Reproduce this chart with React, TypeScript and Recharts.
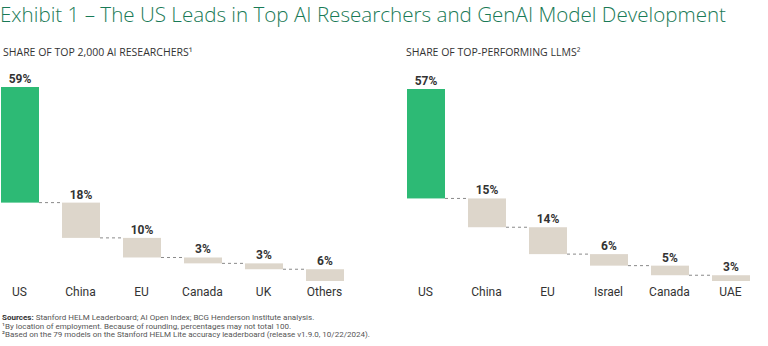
import { Bar, BarChart, LabelList, XAxis, YAxis } from "recharts";

const researcherCategories = ["US", "China", "EU", "Canada", "UK", "Others"];
const researcherShares = [59, 18, 10, 3, 3, 6];

const llmCategories = ["US", "China", "EU", "Israel", "Canada", "UAE"];
const llmShares = [57, 15, 14, 6, 5, 3];

const CHART_W = 366;
const CHART_H = 260;
const BAR_SIZE = 38;
const GAP = CHART_W / 6 - BAR_SIZE;

const GREEN = "#2dba75";
const BEIGE = "#ddd6cb";

function toWaterfall(names: string[], shares: number[]) {
	const total = shares.reduce((a, b) => a + b, 0);
	let used = 0;
	return names.map((name, i) => {
		used += shares[i];
		return { name, base: total - used, value: shares[i] };
	});
}

function StepBar(props: any) {
	const { x, y, width, height, index } = props;
	return (
		<g>
			<rect
				x={x}
				y={y}
				width={width}
				height={height}
				fill={index === 0 ? GREEN : BEIGE}
			/>
			{index > 0 && (
				<line
					x1={x - GAP}
					x2={x}
					y1={y}
					y2={y}
					stroke="#8a8a8a"
					strokeWidth={1}
					strokeDasharray="3 3"
				/>
			)}
		</g>
	);
}

function Waterfall({
	names,
	shares,
	top,
}: {
	names: string[];
	shares: number[];
	top: number;
}) {
	const data = toWaterfall(names, shares);
	const total = shares.reduce((a, b) => a + b, 0);
	return (
		<BarChart
			width={CHART_W}
			height={CHART_H}
			data={data}
			margin={{ top, right: 0, left: 0, bottom: 9 }}
			barSize={BAR_SIZE}
		>
			<XAxis
				dataKey="name"
				axisLine={false}
				tickLine={false}
				interval={0}
				tickMargin={0}
				tick={{ fill: "#333", fontSize: 12 }}
			/>
			<YAxis hide domain={[0, total]} />
			<Bar dataKey="base" stackId="w" fill="transparent" isAnimationActive={false} />
			<Bar
				dataKey="value"
				stackId="w"
				shape={StepBar}
				isAnimationActive={false}
			>
				<LabelList
					dataKey="value"
					position="top"
					offset={4}
					formatter={(v: any) => `${v}%`}
					style={{ fill: "#333", fontSize: 12, fontWeight: 700 }}
				/>
			</Bar>
		</BarChart>
	);
}

export default function App() {
	return (
		<div
			style={{
				position: "absolute",
				left: 0,
				top: 0,
				width: 768,
				height: 346,
				overflow: "hidden",
				background: "#fff",
				fontFamily: "Roboto, sans-serif",
			}}
		>
			<div
				style={{
					position: "absolute",
					left: 0,
					top: 0,
					fontFamily: "'Open Sans', sans-serif",
					fontSize: 20.6,
					fontWeight: 300,
					color: "#197a56",
					whiteSpace: "nowrap",
				}}
			>
				Exhibit 1 – The US Leads in Top AI Researchers and GenAI Model Development
			</div>
			<div
				style={{
					position: "absolute",
					left: 3,
					top: 45,
					fontFamily: "'Open Sans', sans-serif",
					fontSize: 10.5,
					color: "#333",
					whiteSpace: "nowrap",
				}}
			>
				SHARE OF TOP 2,000 AI RESEARCHERS¹
			</div>
			<div
				style={{
					position: "absolute",
					left: 406,
					top: 45,
					fontFamily: "'Open Sans', sans-serif",
					fontSize: 10.5,
					color: "#333",
					whiteSpace: "nowrap",
				}}
			>
				SHARE OF TOP-PERFORMING LLMS²
			</div>
			<div style={{ position: "absolute", left: -11, top: 60 }}>
				<Waterfall names={researcherCategories} shares={researcherShares} top={27} />
			</div>
			<div style={{ position: "absolute", left: 395, top: 60 }}>
				<Waterfall names={llmCategories} shares={llmShares} top={29} />
			</div>
			<div
				style={{
					position: "absolute",
					left: 2,
					top: 314,
					fontSize: 8,
					lineHeight: "8.5px",
					color: "#555",
					whiteSpace: "nowrap",
				}}
			>
				<div>
					<b style={{ color: "#333" }}>Sources:</b> Stanford HELM Leaderboard; AI Open Index; BCG Henderson Institute analysis.
				</div>
				<div>¹By location of employment. Because of rounding, percentages may not total 100.</div>
				<div>²Based on the 79 models on the Stanford HELM Lite accuracy leaderboard (release v1.9.0, 10/22/2024).</div>
			</div>
		</div>
	);
}
